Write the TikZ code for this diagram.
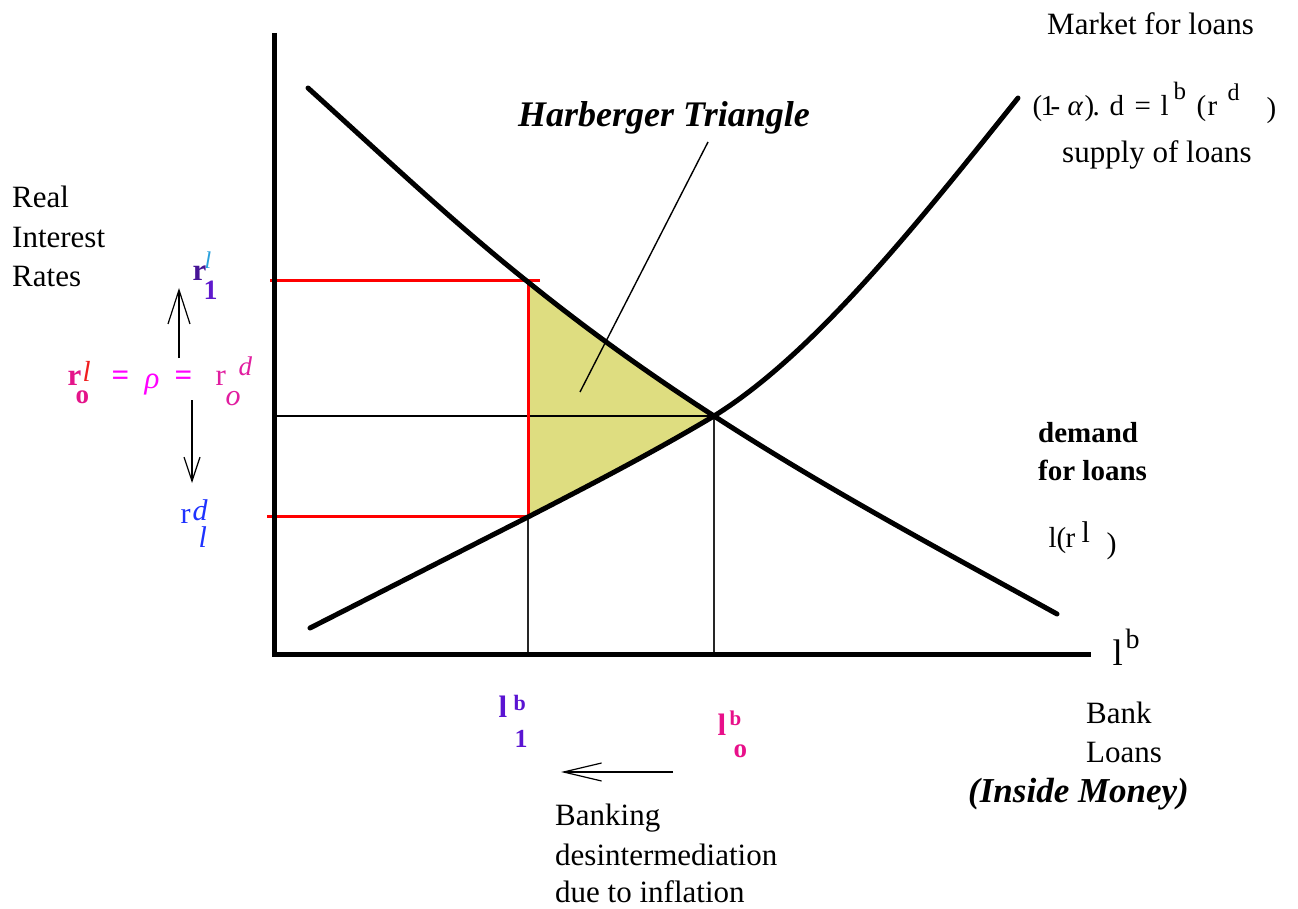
\documentclass[tikz,border=0pt]{standalone}
\usepackage{fontspec}
\setmainfont{Liberation Serif}
\usetikzlibrary{arrows.meta}
\definecolor{tri}{RGB}{222,221,128}
\definecolor{redline}{RGB}{255,0,0}
\definecolor{pinkA}{RGB}{228,20,138}
\definecolor{magB}{RGB}{255,0,255}
\definecolor{pinkC}{RGB}{225,30,160}
\definecolor{redl}{RGB}{240,30,30}
\definecolor{rdark}{RGB}{70,20,150}
\definecolor{subpurple}{RGB}{95,25,205}
\definecolor{lcyan}{RGB}{40,160,220}
\definecolor{blueD}{RGB}{30,50,255}
\definecolor{purpleL}{RGB}{90,20,210}
\definecolor{pinkL}{RGB}{232,16,138}
\newcommand\tx{\fontsize{31}{38}\selectfont}
\newcommand\fs[1]{\fontsize{#1}{#1}\selectfont}
\newcommand\pc[3]{\rlap{\hspace{#1pt}\raisebox{#2pt}{#3}}}
\begin{document}
\begin{tikzpicture}[x=1pt,y=-1pt,
  txt/.style={inner sep=0pt, anchor=base west, font=\tx},
  curve/.style={line width=5pt, line cap=round},
  axis/.style={line width=5pt},
  redl/.style={draw=redline, line width=3pt},
  thin/.style={line width=1.4pt, draw=black!85},
  arr/.style={line width=1.2pt}]
\useasboundingbox (0,0) rectangle (1298,909);
\fill[white] (0,0) rectangle (1298,909);

% key points
\coordinate (D0) at (308,88);
\coordinate (A) at (528,282);
\coordinate (E) at (714,416);
\coordinate (D1) at (1057,614);
\coordinate (S0) at (310,628);
\coordinate (B) at (528,517);
\coordinate (S1) at (1018,98);

% Harberger triangle fill
\fill[tri] (A) .. controls (590,332) and (652,376) .. (E)
  .. controls (652,453) and (590,485) .. (B) -- cycle;

% guide lines
\coordinate (ytop) at (274,33);
\coordinate (orig) at (274,654);
\coordinate (xend) at (1091,654);
\coordinate (yA) at (270,281);
\coordinate (yAr) at (540,281);
\coordinate (yB) at (267,516);
\coordinate (yE) at (274,416);
\coordinate (xA) at (528,654);
\coordinate (xE) at (714,654);

\draw[line width=2.6pt] (yE) -- (E);
\draw[thin] (B) -- (xA);
\draw[thin] (E) -- (xE);
\draw[redl] (yA) -- (yAr);
\draw[redl] (yB) -- (528,516) -- (528,281);

% curves
\draw[curve] (D0) .. controls (381,154) and (455,224) .. (A)
  .. controls (590,332) and (652,376) .. (E)
  .. controls (828,490) and (943,551) .. (D1);
\draw[curve] (S0) .. controls (383,591) and (455,554) .. (B)
  .. controls (590,485) and (652,453) .. (E)
  .. controls (814,354) and (918,223) .. (S1);

% axes
\draw[axis] (ytop) -- (274,656);
\draw[axis] (272,654) -- (xend);

% pointer
\coordinate (p1) at (708,142);
\coordinate (p2) at (580,392);
\draw[line width=1.4pt] (p1) -- (p2);

% arrows
\coordinate (ua0) at (179,358);
\coordinate (ua1) at (179,288);
\draw[arr,-{Straight Barb[length=34pt,width=22pt]}] (ua0) -- (ua1);
\coordinate (da0) at (192,400);
\coordinate (da1) at (192,483);
\draw[arr,-{Straight Barb[length=24pt,width=16pt]}] (da0) -- (da1);
\coordinate (la0) at (673,772);
\coordinate (la1) at (561,772);
\draw[arr,-{Straight Barb[length=38pt,width=18pt]}] (la0) -- (la1);

% texts
\node[txt] (real) at (12,208) {Real};
\node[txt] (interest) at (12,248) {Interest};
\node[txt] (rates) at (12,287) {Rates};
\node[txt] (market) at (1047,35) {Market for loans};
\node[txt] (supply) at (1062,163) {supply of loans};
\node[txt, font=\fs{36}\bfseries\itshape] (harb) at (518,127) {Harberger Triangle};
\node[txt, font=\fs{29}\bfseries] (demand) at (1038,442) {demand};
\node[txt, font=\fs{29}\bfseries] (forloans) at (1038,480) {for loans};
\node[txt] (bank) at (1086,723) {Bank};
\node[txt] (loans) at (1086,762) {Loans};
\node[txt, font=\fs{35}\bfseries\itshape] (inside) at (968,802) {(Inside Money)};
\node[txt] (banking) at (555,825) {Banking};
\node[txt] (desint) at (555,865) {desintermediation};
\node[txt] (due) at (555,902) {due to inflation};

% formula supply
\node[txt, font=\fs{29}] (formula) at (1032,116) {%
  \pc{0}{0}{(}\pc{8}{0}{1}\pc{18}{0}{-}\pc{35}{0}{\itshape α}\pc{52}{0}{)}%
  \pc{60}{0}{.}\pc{77}{0}{d}\pc{102}{0}{=}\pc{128}{0}{l}%
  \pc{141}{16}{\fs{25}b}\pc{164}{0}{(}\pc{175}{0}{r}\pc{195}{15}{\fs{24}d}%
  \pc{234}{-2}{)}\hspace{245pt}};

% demand formula
\node[txt, font=\fs{29}] (lrl) at (1048,547) {%
  \pc{0}{0}{l}\pc{8}{0}{(}\pc{17}{0}{r}\pc{33}{5}{\fs{30}l}\pc{58}{-6}{\fs{30})}\hspace{68pt}};

% l^b on axis
\node[txt] (lbx) at (1112,665) {%
  \pc{0}{0}{\fs{37}l}\pc{13}{17}{\fs{28}b}\hspace{28pt}};

% l^b_1
\node[txt, font=\fs{31}\bfseries\color{purpleL}] (lb1) at (498,717) {%
  \pc{0}{0}{l}\pc{15}{7}{\fs{22}b}\pc{16}{-30}{\fs{26}1}\hspace{30pt}};

% l^b_o
\node[txt, font=\fs{31}\bfseries\color{pinkL}] (lbo) at (717,735) {%
  \pc{0}{0}{l}\pc{12}{10}{\fs{21}b}\pc{16}{-22}{\fs{27}o}\hspace{30pt}};

% r^l_1
\node[txt] (rl1) at (192,280) {%
  \pc{0}{0}{\color{rdark}\bfseries r}\pc{12}{12}{\fs{24}\itshape\color{lcyan}l}%
  \pc{11}{-20}{\fs{28}\bfseries\color{subpurple}1}\hspace{26pt}};

% r^l_o = rho = r^d_o
\node[txt] (rlo) at (67,385) {%
  \pc{0}{0}{\color{pinkA}\bfseries r}\pc{15}{4}{\fs{29}\itshape\color{redl}l}%
  \pc{8}{-18}{\fs{27}\bfseries\color{pinkA}o}%
  \pc{44}{0}{\bfseries\color{magB}=}\pc{77}{-3}{\itshape\color{magB}ρ}%
  \pc{107}{0}{\bfseries\color{magB}=}%
  \pc{148}{0}{\color{pinkC}r}\pc{171}{10}{\fs{27}\itshape\color{pinkC}d}%
  \pc{158}{-20}{\fs{30}\itshape\color{pinkC}o}\hspace{188pt}};

% r^d_l
\node[txt, font=\fs{30}\color{blueD}] (rdl) at (180,523) {%
  \pc{0}{0}{r}\pc{12}{3}{\itshape d}\pc{18}{-24}{\itshape l}\hspace{28pt}};
\end{tikzpicture}
\end{document}
